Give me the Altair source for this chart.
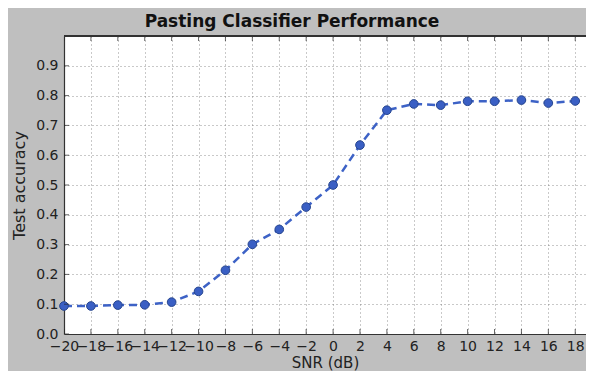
import altair as alt
import pandas as pd

snr = [-20, -18, -16, -14, -12, -10, -8, -6, -4, -2, 0, 2, 4, 6, 8, 10, 12, 14, 16, 18]
accuracy = [0.094, 0.094, 0.097, 0.098, 0.107, 0.143, 0.214, 0.301, 0.351, 0.426,
            0.500, 0.634, 0.751, 0.772, 0.768, 0.781, 0.781, 0.785, 0.775, 0.782]
x_ticks = [-20, -18, -16, -14, -12, -10, -8, -6, -4, -2, 0, 2, 4, 6, 8, 10, 12, 14, 16, 18]
y_ticks = [0.0, 0.1, 0.2, 0.3, 0.4, 0.5, 0.6, 0.7, 0.8, 0.9]

df = pd.DataFrame({"snr": snr, "acc": accuracy})
xt = pd.DataFrame({"snr": x_ticks})
yt = pd.DataFrame({"acc": y_ticks})

FONT = "DejaVu Sans"
LINE = "#3d62c6"

xscale = alt.Scale(domain=[-20, 18.8], nice=False, zero=False)
yscale = alt.Scale(domain=[0, 1], nice=False)
x_axis = alt.Axis(values=x_ticks, title="SNR (dB)", format="d",
                  labelOverlap=False, labelFlush=False)
y_axis = alt.Axis(values=y_ticks, title="Test accuracy", format=".1f",
                  labelFlush=False)

X = alt.X("snr:Q", scale=xscale, axis=x_axis)
Y = alt.Y("acc:Q", scale=yscale, axis=y_axis)

line = alt.Chart(df).mark_line(color=LINE, strokeWidth=2.5, strokeDash=[8, 5]).encode(x=X, y=Y)
pts = alt.Chart(df).mark_point(filled=True, size=75, color="#3a5fc4", opacity=1,
                               stroke="#27468f", strokeWidth=1).encode(x=X, y=Y)

tick_style = dict(clip=True, color="#222", size=10, thickness=1)
tb = alt.Chart(xt).mark_tick(orient="vertical", **tick_style).encode(
    x=X, y=alt.YDatum(0, scale=yscale, axis=y_axis))
tt = alt.Chart(xt).mark_tick(orient="vertical", **tick_style).encode(
    x=X, y=alt.YDatum(1, scale=yscale, axis=y_axis))
tl = alt.Chart(yt).mark_tick(orient="horizontal", **tick_style).encode(
    y=Y, x=alt.XDatum(-20, scale=xscale, axis=x_axis))
top = alt.Chart(yt).mark_rule(color="#333", strokeWidth=1.2).encode(
    y=alt.YDatum(1, scale=yscale, axis=y_axis))

chart = alt.layer(line, pts, tb, tt, tl, top).properties(
    width=522, height=298,
    title=alt.TitleParams("Pasting Classifier Performance", font=FONT, fontSize=17,
                          fontWeight="bold", color="#111", dx=-33, offset=4),
    autosize=alt.AutoSizeParams(type="none"),
    padding={"left": 56, "top": 28, "right": 0, "bottom": 37},
    background="#bfbfbf",
).configure_view(
    fill="white", stroke=None
).configure_axis(
    grid=True, gridColor="#777", gridDash=[1, 3], gridWidth=0.8,
    domain=True, domainColor="#333", domainWidth=1.2, ticks=False,
    labelFont=FONT, labelFontSize=14, labelColor="#222",
    titleFont=FONT, titleFontWeight="normal", titleColor="#222",
).configure_axisX(
    labelPadding=5, titlePadding=2, titleFontSize=15,
).configure_axisY(
    labelPadding=6, titlePadding=8, titleFontSize=16,
)

chart.save("out.html", embed_options={"renderer": "svg", "actions": False})
